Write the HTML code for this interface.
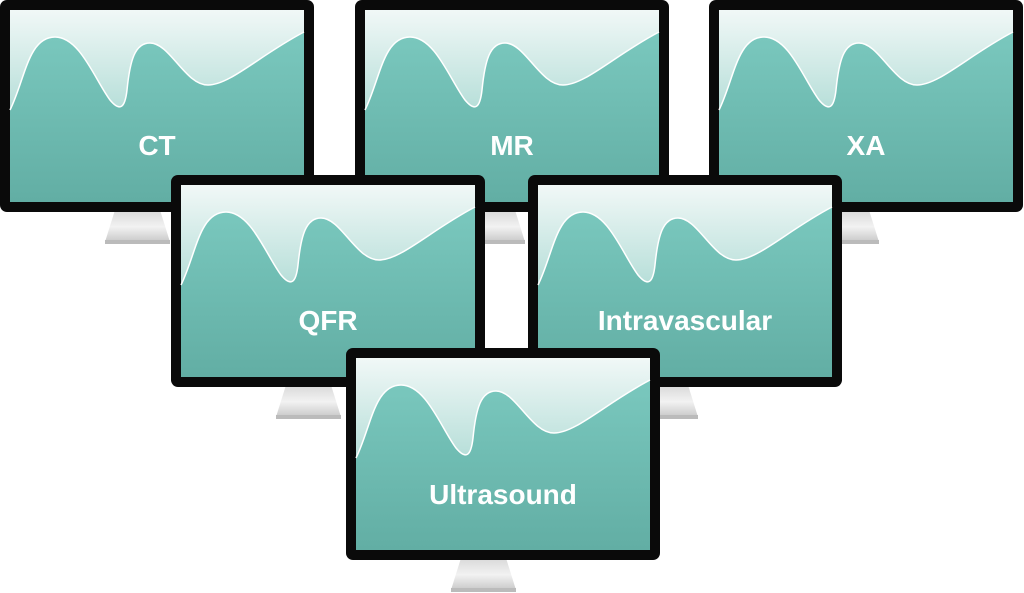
<!DOCTYPE html>
<html><head><meta charset="utf-8"><style>
html,body{margin:0;padding:0;background:#fff;width:1024px;height:593px;overflow:hidden}
text{font-family:"Liberation Sans",sans-serif;font-weight:bold;font-size:28px;fill:#fff}
</style></head><body>
<svg width="1024" height="593" viewBox="0 0 1024 593" xmlns="http://www.w3.org/2000/svg">
<defs>
<linearGradient id="sky" x1="0" y1="0" x2="0" y2="1">
<stop offset="0" stop-color="#f1f8f7"/><stop offset="0.55" stop-color="#b3ddd7"/><stop offset="1" stop-color="#8fcfc6"/>
</linearGradient>
<linearGradient id="sea" x1="0" y1="0" x2="0" y2="1">
<stop offset="0" stop-color="#7ac8be"/><stop offset="1" stop-color="#62aea4"/>
</linearGradient>
<linearGradient id="stand" x1="0" y1="0" x2="0" y2="1">
<stop offset="0" stop-color="#d8d8d8"/><stop offset="0.5" stop-color="#f2f2f2"/><stop offset="1" stop-color="#c4c4c4"/>
</linearGradient>
<g id="mon">
<path d="M115 210 L160 210 L170 242 Q157 245 105 242 Z" fill="url(#stand)"/>
<path d="M105 240 L170 240 L170 244 L105 244 Z" fill="#bbb"/>
<rect x="0" y="0" width="314" height="212" rx="7" fill="#0a0a0a"/>
<rect x="10" y="10" width="294" height="192" fill="url(#sky)"/>
<path d="M10 110 C25 80 28 37 55 37 C80 37 95 80 110 100 C120 112 125 108 127 90 C130 60 135 43 150 43 C170 43 185 85 208 85 C230 85 260 55 304 32 L304 202 L10 202 Z" fill="url(#sea)"/>
<path d="M10 110 C25 80 28 37 55 37 C80 37 95 80 110 100 C120 112 125 108 127 90 C130 60 135 43 150 43 C170 43 185 85 208 85 C230 85 260 55 304 32" fill="none" stroke="#fff" stroke-width="1.5"/>
</g>
</defs>
<use href="#mon" x="0" y="0"/><text x="157" y="155" text-anchor="middle">CT</text>
<use href="#mon" x="355" y="0"/><text x="512" y="155" text-anchor="middle">MR</text>
<use href="#mon" x="709" y="0"/><text x="866" y="155" text-anchor="middle">XA</text>
<use href="#mon" x="171" y="175"/><text x="328" y="330" text-anchor="middle">QFR</text>
<use href="#mon" x="528" y="175"/><text x="685" y="330" text-anchor="middle">Intravascular</text>
<use href="#mon" x="346" y="348"/><text x="503" y="504" text-anchor="middle">Ultrasound</text>
</svg>
</body></html>
